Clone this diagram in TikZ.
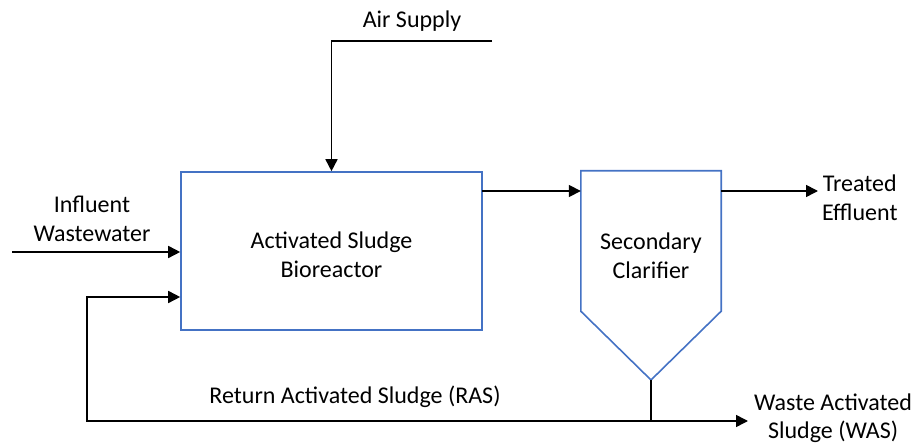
\documentclass[tikz,border=0pt]{standalone}
\usepackage{fontspec}
\setmainfont{Carlito}
\usetikzlibrary{arrows.meta}
\definecolor{boxblue}{HTML}{4472C4}
\begin{document}
\begin{tikzpicture}[x=1pt,y=-1pt,
  lbl/.style={align=center,inner sep=0pt,font=\fontsize{24}{28.5}\selectfont},
  unit/.style={draw=boxblue,line width=1.6pt,inner sep=0pt},
  flow/.style={line width=1.6pt,black},
  arr/.style={flow,-{Triangle[length=12pt,width=12pt]}}]
\useasboundingbox (0,0) rectangle (922,446);
% process units
\node[unit,minimum width=301pt,minimum height=158pt] (bio) at (331.5,251) {};
\node[lbl] (biotxt) at (331.5,255) {Activated Sludge\\Bioreactor};
\node[minimum width=140pt,minimum height=140pt,inner sep=0pt] (cl) at (651,241) {};
\node[lbl] (cltxt) at (651,256) {Secondary\\Clarifier};
\coordinate (clb) at (651,380);
\draw[draw=boxblue,line width=1.6pt,line join=miter] (cl.south west) -- (cl.north west) -- (cl.north east) -- (cl.south east) -- (clb) -- cycle;
% labels
\node[lbl] (air) at (412,21) {Air Supply};
\node[lbl] (inf) at (92,219) {Influent\\Wastewater};
\node[lbl,anchor=west] (te) at (822,198) {Treated\\Effluent};
\node[lbl] (ras) at (355,397) {Return Activated Sludge (RAS)};
\node[lbl,anchor=west,font=\fontsize{24}{27.5}\selectfont] (was) at (754,418) {Waste Activated\\Sludge (WAS)};
% air supply
\coordinate (airend) at (492,41);
\draw[arr] (airend) -| (bio.north);
% influent
\coordinate (infstart) at (12,252);
\draw[arr] (infstart) -- (infstart -| bio.west);
% bioreactor to clarifier
\coordinate (f1) at (482,191);
\draw[arr] (f1) -- (f1 -| cl.west);
% effluent
\draw[arr] (cl.east |- f1) -- ([xshift=-4pt]te.west |- f1);
% sludge withdrawal
\coordinate (j) at (651,421);
\coordinate (rc) at (87,421);
\coordinate (rin) at (181,297);
\draw[flow] (clb) -- (j);
\draw[arr] (j) -- ([xshift=-6pt]was.west |- j);
\draw[arr,line join=miter] (j) -- (rc) |- (rin -| bio.west);
\end{tikzpicture}
\end{document}
